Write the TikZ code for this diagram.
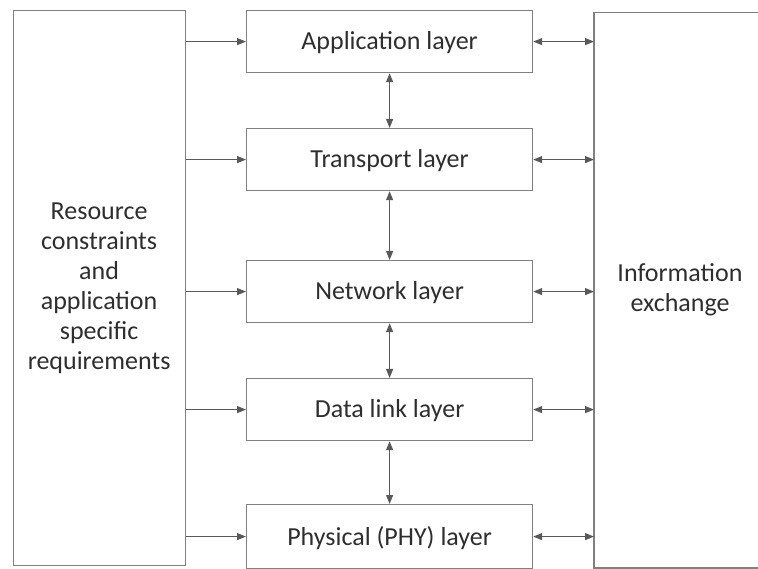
\documentclass[tikz,border=0pt]{standalone}
\usepackage{fontspec}
\setmainfont{Carlito}
\usetikzlibrary{arrows.meta}
\definecolor{boxgray}{HTML}{808080}
\definecolor{arrowgray}{HTML}{595959}
\definecolor{textgray}{HTML}{2E2E2E}
\begin{document}
\begin{tikzpicture}[x=1pt,y=-1pt,
  every node/.style={font=\fontsize{26}{30}\selectfont, text=textgray},
  layerbox/.style={draw=boxgray, line width=1.2pt, minimum width=286pt, minimum height=62pt, anchor=north west,
                   inner sep=0pt, text depth=2pt},
  conn/.style={draw=arrowgray, line width=1.1pt, -{Triangle[length=9pt,width=7pt]}},
  biconn/.style={draw=arrowgray, line width=1.1pt, {Triangle[length=9pt,width=7pt]}-{Triangle[length=9pt,width=7pt]}}]
\useasboundingbox (0,0) rectangle (758,569);
% side blocks
\node[draw=boxgray, line width=1.2pt, minimum width=172pt, minimum height=555pt, anchor=north west, inner sep=0pt,
      align=center] (req) at (12.5,10) {Resource\\constraints\\and\\application\\specific\\requirements};
\draw[boxgray, line width=1.2pt] (790,12.5) -- (594,12.5) -- (594,568) -- (790,568);
\node[align=center] (info) at (680,290) {Information\\exchange};
% protocol layers
\node[layerbox] (app) at (246,10)  {Application layer};
\node[layerbox] (tra) at (246,128) {Transport layer};
\node[layerbox] (net) at (246,260) {Network layer};
\node[layerbox] (dll) at (246,378) {Data link layer};
\node[layerbox, minimum height=64pt] (phy) at (246,504) {Physical (PHY) layer};
% requirements feed every layer; every layer exchanges information
\foreach \n in {app,tra,net,dll,phy}{
  \draw[conn] (req.east |- \n.west) -- (\n.west);
  \coordinate (r\n) at (594,0 |- \n.east);
  \draw[biconn] (\n.east) -- (r\n);
}
% stacking between adjacent layers
\draw[biconn] (app.south) -- (tra.north);
\draw[biconn] (tra.south) -- (net.north);
\draw[biconn] (net.south) -- (dll.north);
\draw[biconn] (dll.south) -- (phy.north);
\end{tikzpicture}
\end{document}
